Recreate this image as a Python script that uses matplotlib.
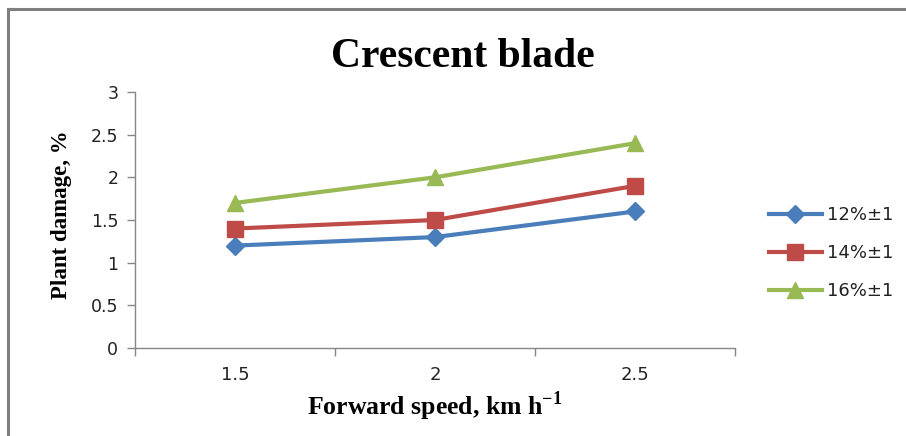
import matplotlib
matplotlib.use("Agg")
import matplotlib.pyplot as plt
from matplotlib.lines import Line2D

# Forward speed categories (km/h) and plant damage (%) per moisture level
speeds = ["1.5", "2", "2.5"]
damage_12 = [1.2, 1.3, 1.6]
damage_14 = [1.4, 1.5, 1.9]
damage_16 = [1.7, 2.0, 2.4]
series_labels = ["12%\u00b11", "14%\u00b11", "16%\u00b11"]
y_ticks = [0, 0.5, 1, 1.5, 2, 2.5, 3]

plt.rcParams["mathtext.fontset"] = "custom"
plt.rcParams["mathtext.bf"] = "Liberation Serif:bold"
plt.rcParams["mathtext.rm"] = "Liberation Serif:bold"

W, H = 906, 436
fig = plt.figure(figsize=(W / 100, H / 100), dpi=100)
fig.patch.set_facecolor("white")

# outer frame: left and top edges only
fig.add_artist(Line2D([8 / W, 8 / W], [0, 1 - 9 / H], color="#7f7f7f", lw=2.2,
                      transform=fig.transFigure))
fig.add_artist(Line2D([8 / W, 1], [1 - 9 / H, 1 - 9 / H], color="#7f7f7f", lw=2.2,
                      transform=fig.transFigure))

ax = fig.add_axes([135 / W, 88 / H, 600 / W, 256 / H])
x = list(range(len(speeds)))

styles = [
    (damage_12, "#4a7ebb", "D", 9),
    (damage_14, "#be4b48", "s", 11),
    (damage_16, "#98b954", "^", 12),
]
for (vals, col, mk, ms), lab in zip(styles, series_labels):
    ax.plot(x, vals, color=col, lw=3, marker=mk, markersize=ms,
            markerfacecolor=col, markeredgecolor=col, label=lab)

ax.set_xlim(-0.5, len(speeds) - 0.5)
ax.set_ylim(0, 3)
ax.set_yticks(y_ticks)
ax.set_yticklabels([f"{v:g}" for v in y_ticks])

# category axis: tick marks between categories, labels at category centres
ax.set_xticks([i - 0.5 for i in range(len(speeds) + 1)])
ax.set_xticklabels([])
ax.set_xticks(x, minor=True)
ax.set_xticklabels(speeds, minor=True)
ax.tick_params(axis="x", which="major", length=6, width=1, color="#868686", direction="out")
ax.tick_params(axis="x", which="minor", length=0, pad=13, labelsize=13, labelcolor="#222222")
ax.tick_params(axis="y", length=6, width=1, color="#868686", direction="out",
               labelsize=12.5, pad=6, labelcolor="#222222")

for s in ("top", "right"):
    ax.spines[s].set_visible(False)
for s in ("left", "bottom"):
    ax.spines[s].set_color("#868686")
    ax.spines[s].set_linewidth(1)

serif = "Liberation Serif"
fig.text(463 / W, 1 - 57 / H, "Crescent blade", ha="center", va="center",
         fontsize=30, fontweight="bold", family=serif)
ax.set_ylabel("Plant damage, %", fontsize=16.5, fontweight="bold", family=serif)
ax.yaxis.set_label_coords(-0.105, 0.52)
ax.set_xlabel("Forward speed, km h$^{\\mathbf{-1}}$", fontsize=18.5, fontweight="bold",
              family=serif, labelpad=4)

leg = ax.legend(loc="center left", bbox_to_anchor=(1.03, 0.371), frameon=False,
                handlelength=2.9, labelspacing=1.1, handletextpad=0.3,
                prop={"family": "DejaVu Sans", "size": 13})
for t in leg.get_texts():
    t.set_color("#222222")

fig.savefig("out.png", dpi=100)
